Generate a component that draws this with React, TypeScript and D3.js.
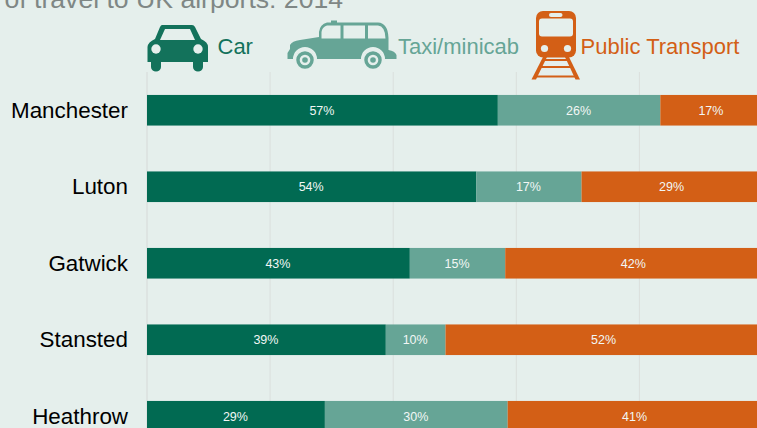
import React from "react";
import * as d3 from "d3";

const airports = ["Manchester", "Luton", "Gatwick", "Stansted", "Heathrow"];
const carValues = [57, 53.5, 42.7, 38.8, 28.9];
const taxiValues = [26.4, 17.1, 15.5, 9.7, 29.7];
const transportValues = [16.6, 29.4, 41.8, 51.5, 41.4];
const carLabels = ["57%", "54%", "43%", "39%", "29%"];
const taxiLabels = ["26%", "17%", "15%", "10%", "30%"];
const transportLabels = ["17%", "29%", "42%", "52%", "41%"];
const gridTicks = [0, 20, 40, 60, 80, 100];
const titleText = "of travel to UK airports: 2014";

const BG = "#e5efec";
const CAR = "#016a52";
const TAXI = "#66a596";
const RAIL = "#d35f16";
const FONT = "'Liberation Sans', Arial, sans-serif";

export default function App() {
  const x = d3.scaleLinear().domain([0, 100]).range([147, 762.5]);
  const y = d3.scaleBand<string>().domain(airports).range([72, 454.5]).paddingInner(0.6).paddingOuter(0.3);
  const colors = [CAR, TAXI, RAIL];
  const stack = airports.map((a, i) => {
    const vals = [carValues[i], taxiValues[i], transportValues[i]];
    const labels = [carLabels[i], taxiLabels[i], transportLabels[i]];
    let c = 0;
    return {
      a,
      segs: vals.map((v, j) => {
        const s = { x0: c, x1: c + v, color: colors[j], label: labels[j] };
        c += v;
        return s;
      }),
    };
  });

  return (
    <svg width={757} height={428} style={{ position: "absolute", left: 0, top: 0, background: BG, fontFamily: FONT }}>
      <text x={4.5} y={8} fontSize={26.6} fill="#7f8785">{titleText}</text>

      {gridTicks.map((t) => (
        <line key={t} x1={x(t)} x2={x(t)} y1={72} y2={428} stroke={t === 0 ? "#d6d9d8" : "#dadfdd"} strokeWidth={1} />
      ))}

      {stack.map((row) => (
        <g key={row.a}>
          <text x={128} y={y(row.a)! + y.bandwidth() / 2 + 7.5} textAnchor="end" fontSize={22.4} fill="#000">{row.a}</text>
          {row.segs.map((s, j) => (
            <g key={j}>
              <rect x={x(s.x0)} y={y(row.a)} width={x(s.x1) - x(s.x0)} height={y.bandwidth()} fill={s.color} />
              <text x={(x(s.x0) + x(s.x1)) / 2 - 0.5} y={y(row.a)! + y.bandwidth() / 2 + 4.5} textAnchor="middle" fontSize={12.5} fill="#f2f7f5">{s.label}</text>
            </g>
          ))}
        </g>
      ))}

      {/* Car icon */}
      <g fill="#13725b">
        <path d="M162 25 H192 Q194 25 195 27 L201 39 Q208 42 208 47 V62 H203 V67 A5 4.5 0 0 1 193 67 V62 H161 V67 A5 4.5 0 0 1 151 67 V62 H147.5 V47 Q148 42 155 39 L160 27 Q161 25 162 25 Z" />
        <path d="M165 29 H190 L195 40 H160 Z" fill={BG} />
        <circle cx={156} cy={49} r={4.7} fill={BG} />
        <circle cx={198} cy={49} r={4.7} fill={BG} />
      </g>
      <text x={217.5} y={54} fontSize={22} fill="#13725b">Car</text>

      {/* Taxi icon */}
      <g fill={TAXI}>
        <path d="M327 22.5 H331 V20.5 H337 V22.5 H378 Q388 23 388.5 38 V50 Q395 51 396.5 55 V59 H385 A12 12 0 0 0 361 59 H317 A12 12 0 0 0 293 59 H287.5 V53 L290 49 V45 Q292 41 300 40 L319 37 V32 Q320 24 327 22.5 Z" />
        <path d="M321.5 38.5 V32 Q322 27 327 25.5 H340.5 V38.5 Z" fill={BG} />
        <rect x={343.5} y={25.5} width={21.5} height={13} fill={BG} />
        <path d="M368 25.5 H378 Q385 26 385.5 38.5 H368 Z" fill={BG} />
        <circle cx={305} cy={60} r={9.5} fill={TAXI} stroke={BG} strokeWidth={1.5} />
        <circle cx={305} cy={60} r={5.3} fill={BG} />
        <circle cx={305} cy={60} r={2.8} fill={TAXI} />
        <circle cx={373} cy={60} r={9.5} fill={TAXI} stroke={BG} strokeWidth={1.5} />
        <circle cx={373} cy={60} r={5.3} fill={BG} />
        <circle cx={373} cy={60} r={2.8} fill={TAXI} />
      </g>
      <text x={398} y={54} fontSize={22} fill={TAXI}>Taxi/minicab</text>

      {/* Train icon */}
      <g fill={RAIL}>
        <rect x={536} y={11} width={40} height={46.5} rx={7} />
        <rect x={539} y={18.5} width={34} height={18} rx={3} fill={BG} />
        <rect x={549} y={13} width={13.5} height={4} rx={2} fill={BG} />
        <circle cx={544.5} cy={48.5} r={3.6} fill={BG} />
        <circle cx={567.5} cy={48.5} r={3.6} fill={BG} />
        <path d="M543 57 H547 L536 79.5 H531.5 Z" />
        <path d="M565 57 H569 L580 79.5 H575.5 Z" />
        <rect x={543} y={59} width={26} height={2} />
        <rect x={540} y={66} width={32} height={2} />
        <rect x={536} y={75.5} width={40} height={2} />
      </g>
      <text x={580.5} y={54} fontSize={22} fill={RAIL}>Public Transport</text>
    </svg>
  );
}
